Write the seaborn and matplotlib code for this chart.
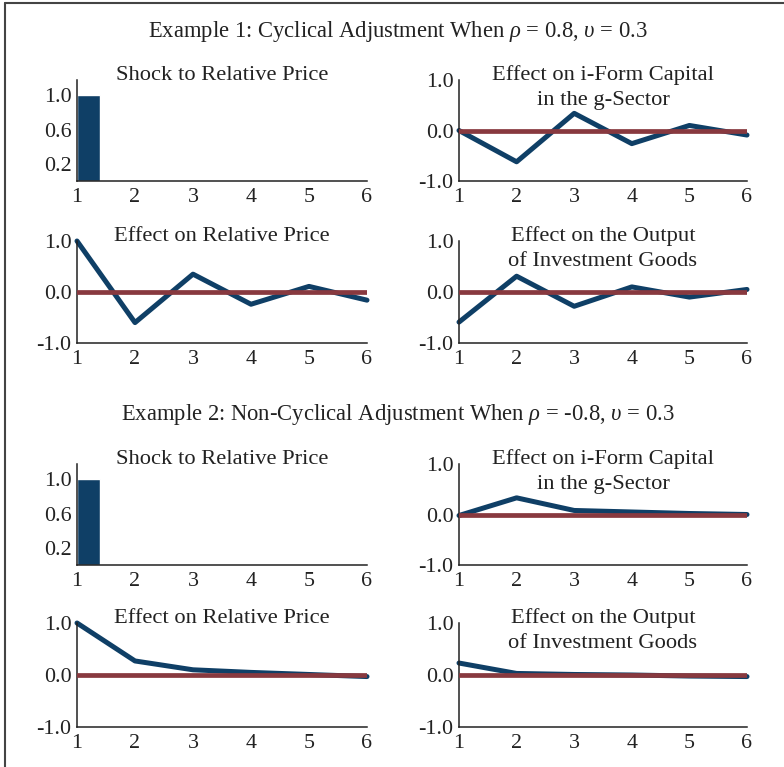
import matplotlib
matplotlib.use("Agg")
import matplotlib.pyplot as plt
import seaborn as sns
from matplotlib.lines import Line2D

# periods after the shock
periods = [1, 2, 3, 4, 5, 6]

# shock to relative price (only period 1)
shock_period = [1]
shock_value = [1.0]

# Example 1: rho = 0.8
ex1_capital = [0.0, -0.62, 0.34, -0.26, 0.10, -0.09]
ex1_price = [1.0, -0.60, 0.35, -0.24, 0.11, -0.16]
ex1_output = [-0.59, 0.31, -0.28, 0.10, -0.10, 0.05]

# Example 2: rho = -0.8
ex2_capital = [-0.02, 0.33, 0.08, 0.05, 0.02, 0.0]
ex2_price = [1.0, 0.27, 0.10, 0.05, 0.01, -0.03]
ex2_output = [0.23, 0.03, 0.01, 0.0, -0.02, -0.03]

titles = ["Example 1: Cyclical Adjustment When $\\rho$ = 0.8, $\\upsilon$ = 0.3",
          "Example 2: Non-Cyclical Adjustment When $\\rho$ = -0.8, $\\upsilon$ = 0.3"]
panel_titles = [["Shock to Relative Price"],
                ["Effect on i-Form Capital", "in the g-Sector"],
                ["Effect on Relative Price"],
                ["Effect on the Output", "of Investment Goods"]]

blue = "#0f3f66"
maroon = "#88393f"
ink = "#222222"

sns.set_theme(style="white")
plt.rcParams["font.family"] = ["Liberation Serif", "DejaVu Serif"]
plt.rcParams["mathtext.fontset"] = "custom"
plt.rcParams["mathtext.it"] = "Liberation Serif:italic"
plt.rcParams["mathtext.rm"] = "Liberation Serif"

W, H = 784, 767
fig = plt.figure(figsize=(W / 100, H / 100), dpi=100)


def px(l, r, b, t):
    return [l / W, 1 - b / H, (r - l) / W, (b - t) / H]


def style(ax, title):
    for s in ["top", "right"]:
        ax.spines[s].set_visible(False)
    for s in ["left", "bottom"]:
        ax.spines[s].set_color(ink)
        ax.spines[s].set_linewidth(1.1)
    ax.set_xlim(1, 6)
    ax.set_xticks(periods)
    ax.tick_params(axis="both", length=0, labelsize=15.8, colors=ink)
    ax.tick_params(axis="x", pad=5)
    ax.tick_params(axis="y", pad=4)
    ax.set_xlabel("")
    ax.set_ylabel("")
    # each title line placed on its own baseline, first one at the axes top
    for i, line in enumerate(title):
        ax.annotate(line, xy=(0.5, 1.0), xycoords="axes fraction",
                    xytext=(0, -17.8 * i), textcoords="offset points",
                    ha="center", va="baseline", fontsize=16.2, color=ink)


def line_panel(ax, vals, title):
    sns.lineplot(x=periods, y=vals, ax=ax, color=blue, linewidth=3.6, clip_on=False)
    ax.axhline(0, color=maroon, linewidth=3.4, zorder=3)
    ax.set_ylim(-1, 1)
    ax.set_yticks([-1.0, 0.0, 1.0])
    ax.set_yticklabels(["-1.0", "0.0", "1.0"])
    style(ax, title)


def bar_panel(ax, title):
    ax.bar(shock_period, shock_value, width=0.4, align="edge", color=blue)
    ax.set_ylim(0, 1.18)
    ax.set_yticks([0.2, 0.6, 1.0])
    ax.set_yticklabels(["0.2", "0.6", "1.0"])
    style(ax, title)


rows = [(80, 181, 241, 343, 37), (464, 565, 623, 727, 420)]
data = [(ex1_capital, ex1_price, ex1_output), (ex2_capital, ex2_price, ex2_output)]

for k, (t1, b1, t2, b2, ty) in enumerate(rows):
    cap, price, out = data[k]
    fig.text(398 / W, 1 - ty / H, titles[k], ha="center", va="baseline",
             fontsize=16.3, color=ink)
    bar_panel(fig.add_axes(px(77, 367, b1, t1)), panel_titles[0])
    line_panel(fig.add_axes(px(459, 747, b1, t1)), cap, panel_titles[1])
    line_panel(fig.add_axes(px(77, 367, b2, t2)), price, panel_titles[2])
    line_panel(fig.add_axes(px(459, 747, b2, t2)), out, panel_titles[3])

# border on top and left
fig.add_artist(Line2D([5 / W, 1], [1 - 3 / H, 1 - 3 / H], color="#444444", lw=1.5))
fig.add_artist(Line2D([5 / W, 5 / W], [0, 1 - 3 / H], color="#444444", lw=1.5))

fig.savefig("out.png", dpi=100)
